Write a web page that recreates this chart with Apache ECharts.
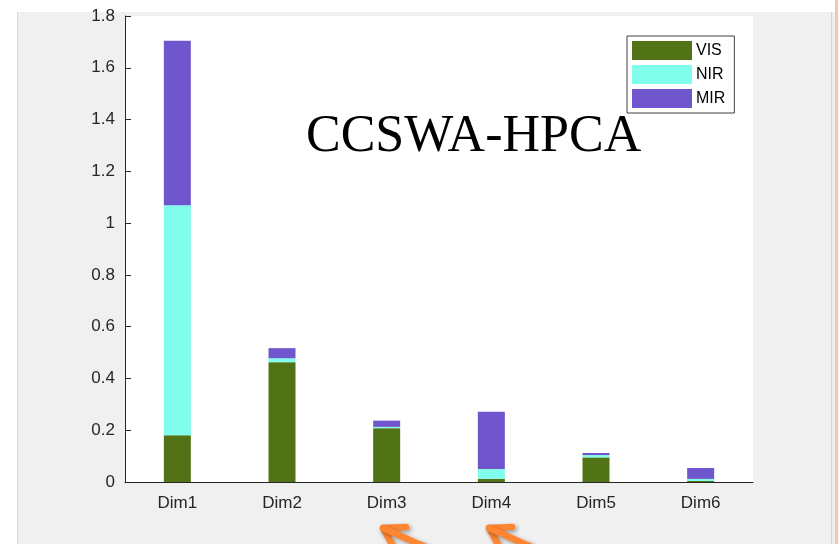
<!DOCTYPE html>
<html>
<head>
<meta charset="utf-8">
<title>CCSWA-HPCA</title>
<script src="https://cdn.jsdelivr.net/npm/echarts@6/dist/echarts.min.js"></script>
<style>
  html, body { margin: 0; padding: 0; background: #ffffff; }
  #chart { width: 838px; height: 544px; }
</style>
</head>
<body>
<div id="chart"></div>
<script>
// Band contributions per principal dimension
const categories = ['Dim1', 'Dim2', 'Dim3', 'Dim4', 'Dim5', 'Dim6'];
const visValues = [0.181, 0.463, 0.208, 0.012, 0.095, 0.004];
const nirValues = [0.888, 0.015, 0.005, 0.038, 0.009, 0.008];
const mirValues = [0.635, 0.039, 0.024, 0.221, 0.008, 0.042];
const yTicks = [0, 0.2, 0.4, 0.6, 0.8, 1, 1.2, 1.4, 1.6, 1.8];

const colors = { VIS: '#527216', NIR: '#80fdeb', MIR: '#6f56cc' };
const axisColor = '#262626';
const sansFont = 'Liberation Sans, Arial, Helvetica, sans-serif';

const chart = echarts.init(document.getElementById('chart'), null, { renderer: 'canvas' });

function barSeries(name, values) {
  return {
    name: name,
    type: 'bar',
    stack: 'bands',
    barWidth: 27,
    data: values,
    itemStyle: { color: colors[name] },
    emphasis: { disabled: true },
    animation: false
  };
}

// Orange pointer arrows below the axis
function arrow(tipX, tipY) {
  const style = {
    stroke: '#ff8531', lineWidth: 6.5, lineCap: 'round', lineJoin: 'round', fill: null,
    shadowBlur: 4, shadowColor: 'rgba(0,0,0,0.35)', shadowOffsetX: 2, shadowOffsetY: 2
  };
  return [
    { type: 'polyline', z: 20, shape: { points: [[tipX + 37, tipY + 17], [tipX + 70, tipY + 32]] }, style: style },
    { type: 'polyline', z: 20, shape: { points: [[tipX + 23, tipY - 1], [tipX, tipY], [tipX + 12, tipY + 22]] }, style: style },
    { type: 'polyline', z: 20, shape: { points: [[tipX, tipY], [tipX + 40, tipY + 18]] }, style: style }
  ];
}

const option = {
  animation: false,
  backgroundColor: '#ffffff',
  graphic: [
    { type: 'rect', z: -10, shape: { x: 17, y: 12, width: 815, height: 532 }, style: { fill: '#f0f0f0' } },
    { type: 'rect', z: -9, shape: { x: 17, y: 12, width: 1, height: 532 }, style: { fill: '#d6d6d6' } },
    { type: 'rect', z: -9, shape: { x: 831, y: 12, width: 1, height: 532 }, style: { fill: '#d4d4d4' } },
    { type: 'rect', z: -9, shape: { x: 832, y: 12, width: 3, height: 532 }, style: { fill: '#eeeeee' } },
    { type: 'rect', z: -9, shape: { x: 835, y: 0, width: 3, height: 544 }, style: { fill: '#f9c4b3' } },
    {
      type: 'text', z: 10, left: 306, top: 111,
      style: {
        text: 'CCSWA-HPCA', fill: '#000000',
        font: '52px "Liberation Serif", "DejaVu Serif", Times, serif'
      }
    }
  ].concat(arrow(383, 528), arrow(489, 528)),
  grid: {
    left: 125, right: 85, top: 16, bottom: 62,
    show: true, backgroundColor: '#ffffff', borderWidth: 0
  },
  legend: {
    orient: 'vertical',
    left: 627, top: 36,
    itemWidth: 60, itemHeight: 19, itemGap: 5,
    padding: [5, 9, 5, 5],
    backgroundColor: '#ffffff',
    borderColor: '#404040', borderWidth: 1,
    icon: 'rect',
    selectedMode: false,
    textStyle: { fontFamily: sansFont, fontSize: 16, color: '#000000', padding: [0, 0, 0, -1] },
    data: ['VIS', 'NIR', 'MIR']
  },
  xAxis: {
    type: 'category',
    data: categories,
    axisLine: { lineStyle: { color: axisColor, width: 1 } },
    axisTick: { show: false },
    axisLabel: { color: axisColor, fontFamily: sansFont, fontSize: 17, margin: 13 },
    splitLine: { show: false }
  },
  yAxis: {
    type: 'value',
    min: 0, max: 1.8, interval: 0.2,
    axisLine: { show: true, lineStyle: { color: axisColor, width: 1 } },
    axisTick: { show: true, inside: true, length: 6, lineStyle: { color: axisColor } },
    axisLabel: {
      color: axisColor, fontFamily: sansFont, fontSize: 17, margin: 10,
      padding: [3, 0, 0, 0],
      formatter: function (v) {
        const t = yTicks.find(function (k) { return Math.abs(k - v) < 1e-9; });
        return t === undefined ? '' : String(t);
      }
    },
    splitLine: { show: false }
  },
  series: [
    barSeries('VIS', visValues),
    barSeries('NIR', nirValues),
    barSeries('MIR', mirValues)
  ]
};

chart.setOption(option);
</script>
</body>
</html>
